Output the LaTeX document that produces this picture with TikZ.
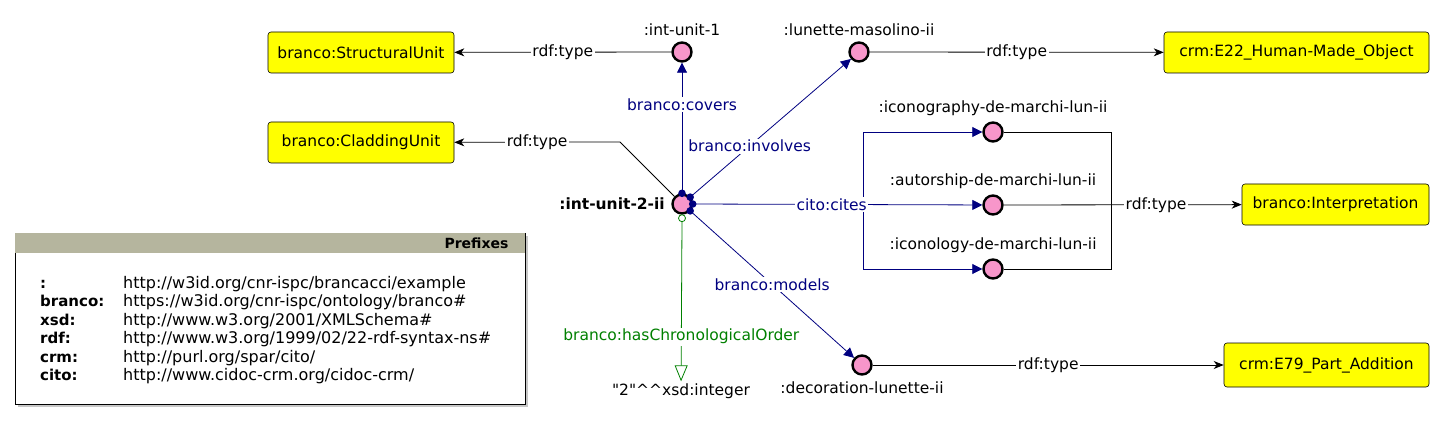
\documentclass[tikz,border=0pt]{standalone}
\usepackage{fontspec}
\usepackage{array}
\setmainfont{DejaVu Sans}[Ligatures=TeXOff]
\usetikzlibrary{arrows.meta}
\definecolor{nodepink}{RGB}{247,150,202}
\definecolor{edgeblue}{RGB}{0,0,128}
\definecolor{edgegreen}{RGB}{0,128,0}
\definecolor{classyellow}{RGB}{255,255,0}
\definecolor{prefixhead}{RGB}{181,181,158}

\begin{document}
\begin{tikzpicture}[x=1pt, y=-1pt, every node/.style={font=\fontsize{15.5}{18}\selectfont},
	res/.style={circle, draw=black, line width=2.4pt, fill=nodepink, minimum size=19pt, inner sep=0pt},
	cls/.style={draw=black, fill=classyellow, rounded corners=3pt, line width=0.6pt, minimum height=41pt},
	lbl/.style={fill=white, inner sep=1.5pt},
	typ/.style={black, line width=0.8pt, -{Stealth[length=10pt, width=8pt, inset=3pt]}},
	rel/.style={edgeblue, line width=0.8pt, -{Triangle[length=10pt, width=10pt]}},
	chrono/.style={edgegreen, line width=0.8pt, -{Triangle[open, length=16pt, width=13pt]}}]
	\useasboundingbox (0,0) rectangle (1445,422);
	% classes
	\node[cls, minimum width=186pt] (su) at (361,52.5) {branco:StructuralUnit};
	\node[cls, minimum width=186pt] (cu) at (361,142.5) {branco:CladdingUnit};
	\node[cls, minimum width=265pt] (e22) at (1296.5,52.5) {crm:E22\_Human-Made\_Object};
	\node[cls, minimum width=187pt] (interp) at (1335.5,204.5) {branco:Interpretation};
	\node[cls, minimum width=205pt, minimum height=44pt] (e79) at (1326.5,365) {crm:E79\_Part\_Addition};
	% individuals
	\node[res, label={[label distance=3pt]left:\textbf{:int-unit-2-ii}}] (c) at (682,204) {};
	\node[res, label={[label distance=2pt]above::int-unit-1}] (iu1) at (682,52) {};
	\node[res, label={[label distance=2pt]above::lunette-masolino-ii}] (lun) at (859,52) {};
	\node[res, label={[label distance=2pt]above::iconography-de-marchi-lun-ii}] (icog) at (993,132) {};
	\node[res, label={[label distance=2pt]above::autorship-de-marchi-lun-ii}] (aut) at (993,205) {};
	\node[res, label={[label distance=2pt]above::iconology-de-marchi-lun-ii}] (icol) at (993,269) {};
	\node[res, label={[label distance=2pt]below::decoration-lunette-ii}] (dec) at (862,365) {};
	\node[inner sep=2pt] (lit) at (681,391) {"2"\textasciicircum\textasciicircum xsd:integer};
	\coordinate (bend) at (620,142);
	\coordinate (split) at (863,205);
	\coordinate (join) at (1111,205);
	% rdf:type
	\draw[typ] (iu1) -- node[lbl]{rdf:type} (su);
	\draw[typ] (c.135) -- (bend) -- node[lbl]{rdf:type} (cu);
	\draw[typ] (lun) -- node[lbl]{rdf:type} (e22);
	\draw[typ] (dec) -- node[lbl]{rdf:type} (e79);
	\draw[black, line width=0.8pt] (icog) -| (join) |- (icol);
	\draw[typ] (aut) -- node[lbl, pos=0.64]{rdf:type} (interp);
	% object properties
	\draw[rel] (split) |- (icog);
	\draw[rel] (split) |- (icol);
	\draw[rel] (c.north) -- node[lbl, text=edgeblue, pos=0.68]{branco:covers} (iu1);
	\draw[rel] (c.40) -- node[lbl, text=edgeblue, pos=0.37]{branco:involves} (lun);
	\draw[rel] (c.east) -- node[lbl, text=edgeblue, pos=0.48]{cito:cites} (aut);
	\draw[rel] (c.-40) -- node[lbl, text=edgeblue, pos=0.5]{branco:models} (dec);
	\draw[chrono] ([yshift=-7pt]c.south) -- node[lbl, text=edgegreen, pos=0.72]{branco:hasChronologicalOrder} (lit);
	\foreach \a in {90,40,0,-40} {\fill[edgeblue] (c.\a) circle (3.8pt);}
	\draw[edgegreen, line width=0.8pt] ([yshift=-3.5pt]c.south) circle (3.5pt);
	% prefixes
	\fill[black!22] (18,236) rectangle (528,407);
	\draw[fill=white, line width=0.8pt] (15,233) rectangle (525,404);
	\fill[prefixhead] (15.4,233.4) rectangle (524.6,253);
	\node[anchor=east, font=\fontsize{14}{16}\selectfont\bfseries] (preftitle) at (512,243) {Prefixes};
	\node[anchor=north west, inner sep=0pt, font=\fontsize{15}{18.5}\selectfont] (preftab) at (40,275) {%
		\begin{tabular}{@{}>{\bfseries}p{83pt}@{}>{\fontsize{16}{18.5}\selectfont}l@{}}
		: & http://w3id.org/cnr-ispc/brancacci/example\\
		branco: & https://w3id.org/cnr-ispc/ontology/branco\#\\
		xsd: & http://www.w3.org/2001/XMLSchema\#\\
		rdf: & http://www.w3.org/1999/02/22-rdf-syntax-ns\#\\
		crm: & http://purl.org/spar/cito/\\
		cito: & http://www.cidoc-crm.org/cidoc-crm/
		\end{tabular}};
\end{tikzpicture}
\end{document}
